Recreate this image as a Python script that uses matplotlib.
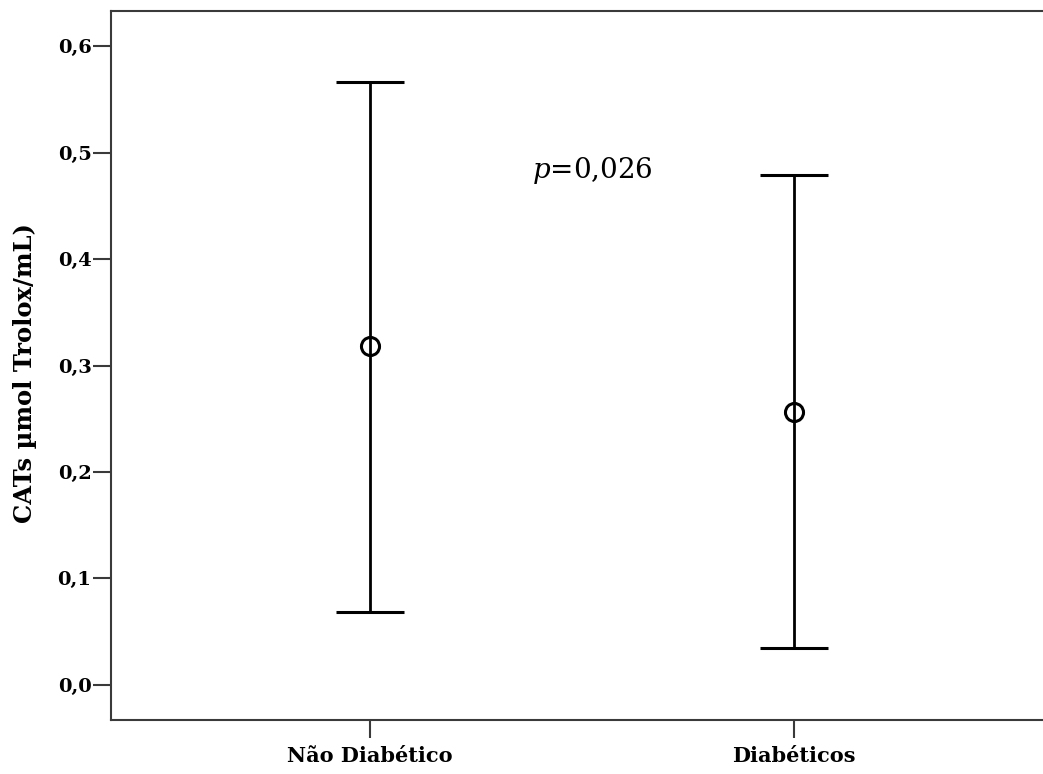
import matplotlib
matplotlib.use("Agg")
import matplotlib.pyplot as plt

categories = ["Não Diabético", "Diabéticos"]
means = [0.318, 0.256]
upper = [0.566, 0.479]
lower = [0.068, 0.035]
y_ticks = [0.0, 0.1, 0.2, 0.3, 0.4, 0.5, 0.6]
y_tick_labels = ["0,0", "0,1", "0,2", "0,3", "0,4", "0,5", "0,6"]
p_text = "=0,026"

plt.rcParams['font.family'] = ['DejaVu Serif']
plt.rcParams['mathtext.fontset'] = 'dejavuserif'

fig = plt.figure(figsize=(10.43, 7.74), dpi=100)
ax = fig.add_axes([111/1043, 1 - 720/774, 1 - 111/1043, (720 - 11)/774])

x = list(range(len(categories)))
yerr = [[m - l for m, l in zip(means, lower)], [u - m for u, m in zip(upper, means)]]
ax.errorbar(x, means, yerr=yerr, fmt='o', color='black', ecolor='black',
            elinewidth=2.0, capsize=24.5, capthick=2.2,
            markersize=13, markerfacecolor='none', markeredgewidth=2.2,
            markeredgecolor='black')

ax.set_xlim(-0.611, 1.587)
ax.set_ylim(-0.033, 0.633)
ax.set_xticks(x)
ax.set_xticklabels(categories, fontsize=15, fontweight='bold')
ax.set_yticks(y_ticks)
ax.set_yticklabels(y_tick_labels, fontsize=14, fontweight='bold')
ax.set_ylabel("CATs µmol Trolox/mL)", fontsize=17.5, fontweight='bold')
ax.yaxis.set_label_coords(-0.079, 0.489)

for s in ['left', 'bottom', 'top']:
    ax.spines[s].set_color('#3a3a3a')
    ax.spines[s].set_linewidth(1.5)
ax.spines['right'].set_visible(False)
ax.tick_params(axis='y', length=13, width=1.5, color='#3a3a3a', pad=1)
ax.tick_params(axis='x', length=13, width=1.5, color='#3a3a3a', pad=6)

ax.text(0.382, 0.483, "$\\it{p}$" + p_text, fontsize=20, ha='left', va='center',
        transform=ax.transData)

fig.savefig("out.png", dpi=100)
